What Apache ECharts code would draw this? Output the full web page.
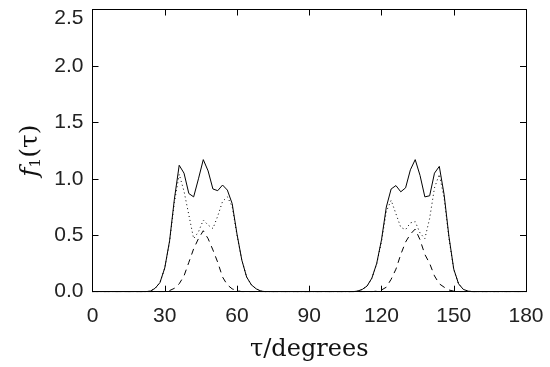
<!DOCTYPE html>
<html>
<head>
<meta charset="utf-8">
<script src="https://cdn.jsdelivr.net/npm/echarts@6/dist/echarts.min.js"></script>
<style>html,body{margin:0;padding:0;background:#fff}#c{width:550px;height:367px}</style>
</head>
<body>
<div id="c"></div>
<script>
const tau = [0,2,4,6,8,10,12,14,16,18,20,22,24,26,28,30,32,34,36,38,40,42,44,46,48,50,52,54,56,58,60,62,64,66,68,70,72,74,76,78,80,82,84,86,88,90,92,94,96,98,100,102,104,106,108,110,112,114,116,118,120,122,124,126,128,130,132,134,136,138,140,142,144,146,148,150,152,154,156,158,160,162,164,166,168,170,172,174,176,178,180];
const total = [0,0,0,0,0,0,0,0,0,0,0,0,
  0.005,0.03,0.08,0.21,0.45,0.82,1.12,1.05,0.87,0.84,1.00,1.17,1.07,0.91,0.895,0.945,0.90,0.78,0.51,0.28,0.13,0.06,0.025,0.005,
  0,0,0,0,0,0,0,0,0,0,0,0,0,0,0,0,0,0,0,
  0.005,0.02,0.05,0.12,0.25,0.46,0.75,0.91,0.94,0.885,0.92,1.08,1.17,1.03,0.84,0.85,1.05,1.11,0.86,0.49,0.20,0.07,0.02,0.005,
  0,0,0,0,0,0,0,0,0,0,0,0];
const dotted = [0,0,0,0,0,0,0,0,0,0,0,0,
  0.005,0.03,0.08,0.21,0.44,0.79,1.04,0.89,0.68,0.47,0.53,0.635,0.59,0.56,0.67,0.80,0.84,0.755,0.50,0.28,0.13,0.06,0.025,0.005,
  0,0,0,0,0,0,0,0,0,0,0,0,0,0,0,0,0,0,0,
  0.005,0.02,0.05,0.12,0.245,0.445,0.71,0.81,0.69,0.57,0.55,0.61,0.62,0.52,0.47,0.65,0.92,1.04,0.83,0.475,0.195,0.07,0.02,0.005,
  0,0,0,0,0,0,0,0,0,0,0,0];
const dashed = [0,0,0,0,0,0,0,0,0,0,0,0,0,0,0,0,
  0.01,0.03,0.07,0.14,0.26,0.38,0.47,0.54,0.47,0.37,0.26,0.13,0.06,0.025,0.01,
  0,0,0,0,0,0,0,0,0,0,0,0,0,0,0,0,0,0,0,0,0,0,0,0,0,0,0,0,
  0.005,0.015,0.04,0.11,0.20,0.33,0.44,0.51,0.555,0.46,0.33,0.25,0.14,0.07,0.04,0.015,0.005,
  0,0,0,0,0,0,0,0,0,0,0,0,0,0,0];
const xTicks = [0, 180, 30];
const yTicks = [0, 2.5, 0.5];

const pair = arr => tau.map((t, i) => [t, arr[i]]);
const lblFont = "'Liberation Sans', Arial, sans-serif";
const axLine = {show: true, onZero: false, lineStyle: {color: '#000', width: 1}};
const tick = {show: true, inside: true, length: 6, lineStyle: {color: '#000', width: 1}};

const chart = echarts.init(document.getElementById('c'), null, {renderer: 'canvas'});
chart.setOption({
  animation: false,
  backgroundColor: '#fff',
  grid: {left: 92.5, right: 24, top: 9.5, bottom: 75.3, containLabel: false},
  xAxis: [{
    type: 'value', min: xTicks[0], max: xTicks[1], interval: xTicks[2], position: 'bottom',
    axisLine: axLine, axisTick: tick, splitLine: {show: false},
    axisLabel: {margin: 14, fontFamily: lblFont, fontSize: 21, color: '#222'},
    name: 'τ/degrees', nameLocation: 'middle', nameGap: 46,
    nameTextStyle: {fontFamily: "'DejaVu Serif', serif", fontSize: 24, color: '#111'}
  }, {
    type: 'value', min: xTicks[0], max: xTicks[1], interval: xTicks[2], position: 'top',
    axisLine: axLine, axisTick: tick, splitLine: {show: false}, axisLabel: {show: false}
  }],
  yAxis: [{
    type: 'value', min: yTicks[0], max: yTicks[1], interval: yTicks[2], position: 'left',
    axisLine: axLine, axisTick: tick, splitLine: {show: false},
    axisLabel: {
      margin: 9, fontFamily: lblFont, fontSize: 21, color: '#222',
      formatter: v => v === yTicks[1] ? '{t|' + v.toFixed(1) + '}' : v.toFixed(1),
      rich: {t: {padding: [18, 0, 0, 0], fontFamily: lblFont, fontSize: 21, color: '#222'}}
    },
    name: '{f|f}{s|1}{n|(τ)}', nameLocation: 'middle', nameGap: 35, nameRotate: 90,
    nameTextStyle: {
      rich: {
        f: {fontFamily: "'DejaVu Serif', serif", fontStyle: 'italic', fontSize: 25, color: '#111'},
        s: {fontFamily: "'DejaVu Serif', serif", fontSize: 15, color: '#111', verticalAlign: 'bottom', padding: [10, 0, 0, 0]},
        n: {fontFamily: "'DejaVu Serif', serif", fontSize: 25, color: '#111'}
      }
    }
  }, {
    type: 'value', min: yTicks[0], max: yTicks[1], interval: yTicks[2], position: 'right',
    axisLine: axLine, axisTick: tick, splitLine: {show: false}, axisLabel: {show: false}
  }],
  series: [
    {type: 'line', data: pair(dashed), showSymbol: false, silent: true,
     lineStyle: {color: '#000', width: 1, type: [6, 5]}},
    {type: 'line', data: pair(dotted), showSymbol: false, silent: true,
     lineStyle: {color: '#000', width: 1, type: [1, 3]}},
    {type: 'line', data: pair(total), showSymbol: false, silent: true,
     lineStyle: {color: '#000', width: 1, type: 'solid'}}
  ]
});
</script>
</body>
</html>
